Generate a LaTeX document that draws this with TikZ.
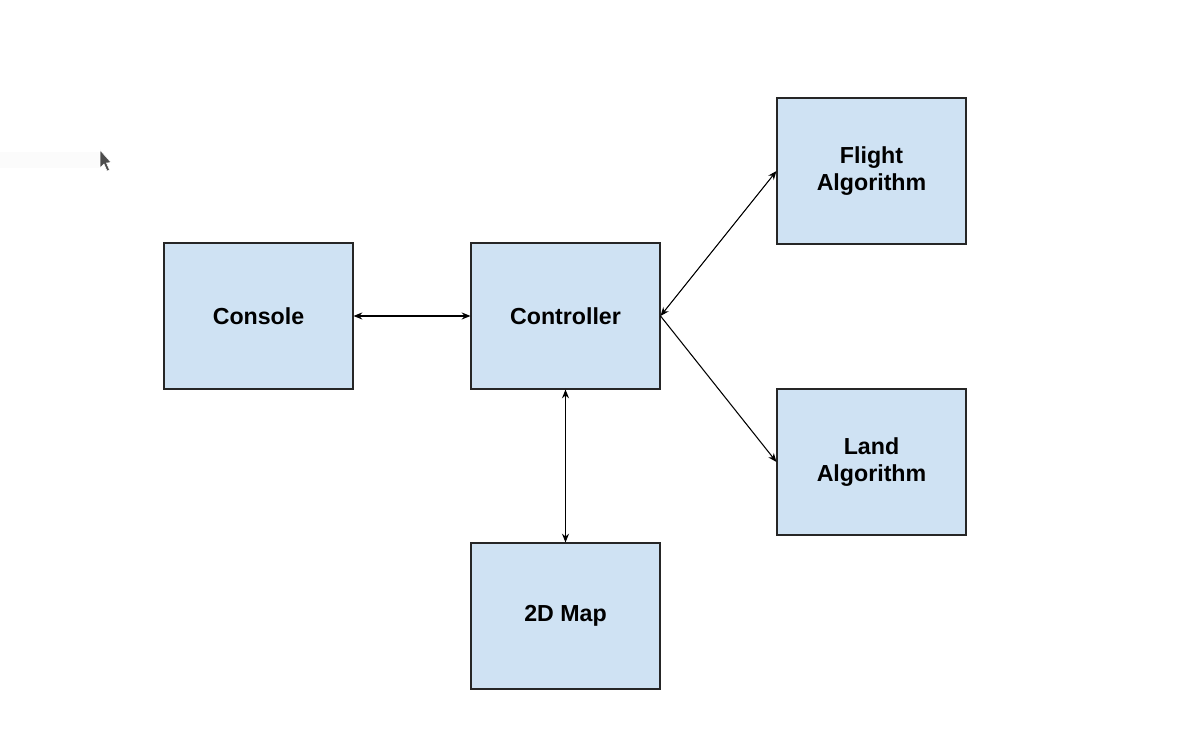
\documentclass[tikz,border=0pt]{standalone}
\usepackage{fontspec}
\setmainfont{Liberation Sans}
\usetikzlibrary{arrows.meta}
\usetikzlibrary{positioning}
\definecolor{boxblue}{HTML}{CFE2F3}
\tikzset{
  block/.style={draw=black!85, fill=boxblue, line width=0.6pt, minimum width=189*0.02cm,
    minimum height=146*0.02cm, align=center, inner sep=0pt,
    font=\fontsize{13.2}{15}\selectfont\bfseries},
  link/.style={line width=0.6pt, {Stealth[length=5pt,width=4pt]}-{Stealth[length=5pt,width=4pt]}},
  onelink/.style={line width=0.6pt, -{Stealth[length=5pt,width=4pt]}}
}
\begin{document}
\begin{tikzpicture}[x=0.02cm, y=-0.02cm]
			\useasboundingbox (0, 0) rectangle (1198, 742);
			\fill[white] (0, 0) rectangle (1198, 742);
			% faint strip and pointer on the left
			\fill[black!1.5] (0, 152) rectangle (100, 168);
			\filldraw[fill=black!70, draw=white, line width=0.3pt] (100, 150) -- (100, 168) -- (104, 164) -- (107, 171) -- (109.5, 170) -- (106.5, 163) -- (111, 162.5) -- cycle;
			% blocks
			\node[block] (console) at (258.5, 316) {Console};
			\node[block] (ctrl) at (565.5, 316) {Controller};
			\node[block] (flight) at (871.5, 171) {Flight\\Algorithm};
			\node[block] (land) at (871.5, 462) {Land\\Algorithm};
			\node[block] (map) at (565.5, 616) {2D Map};
			% connections
			\draw[link] (console.east) -- (ctrl.west);
			\draw[link] (ctrl.east) -- (flight.west);
			\draw[onelink] (ctrl.east) -- (land.west);
			\draw[link] (ctrl.south) -- (map.north);
		\end{tikzpicture}
\end{document}
